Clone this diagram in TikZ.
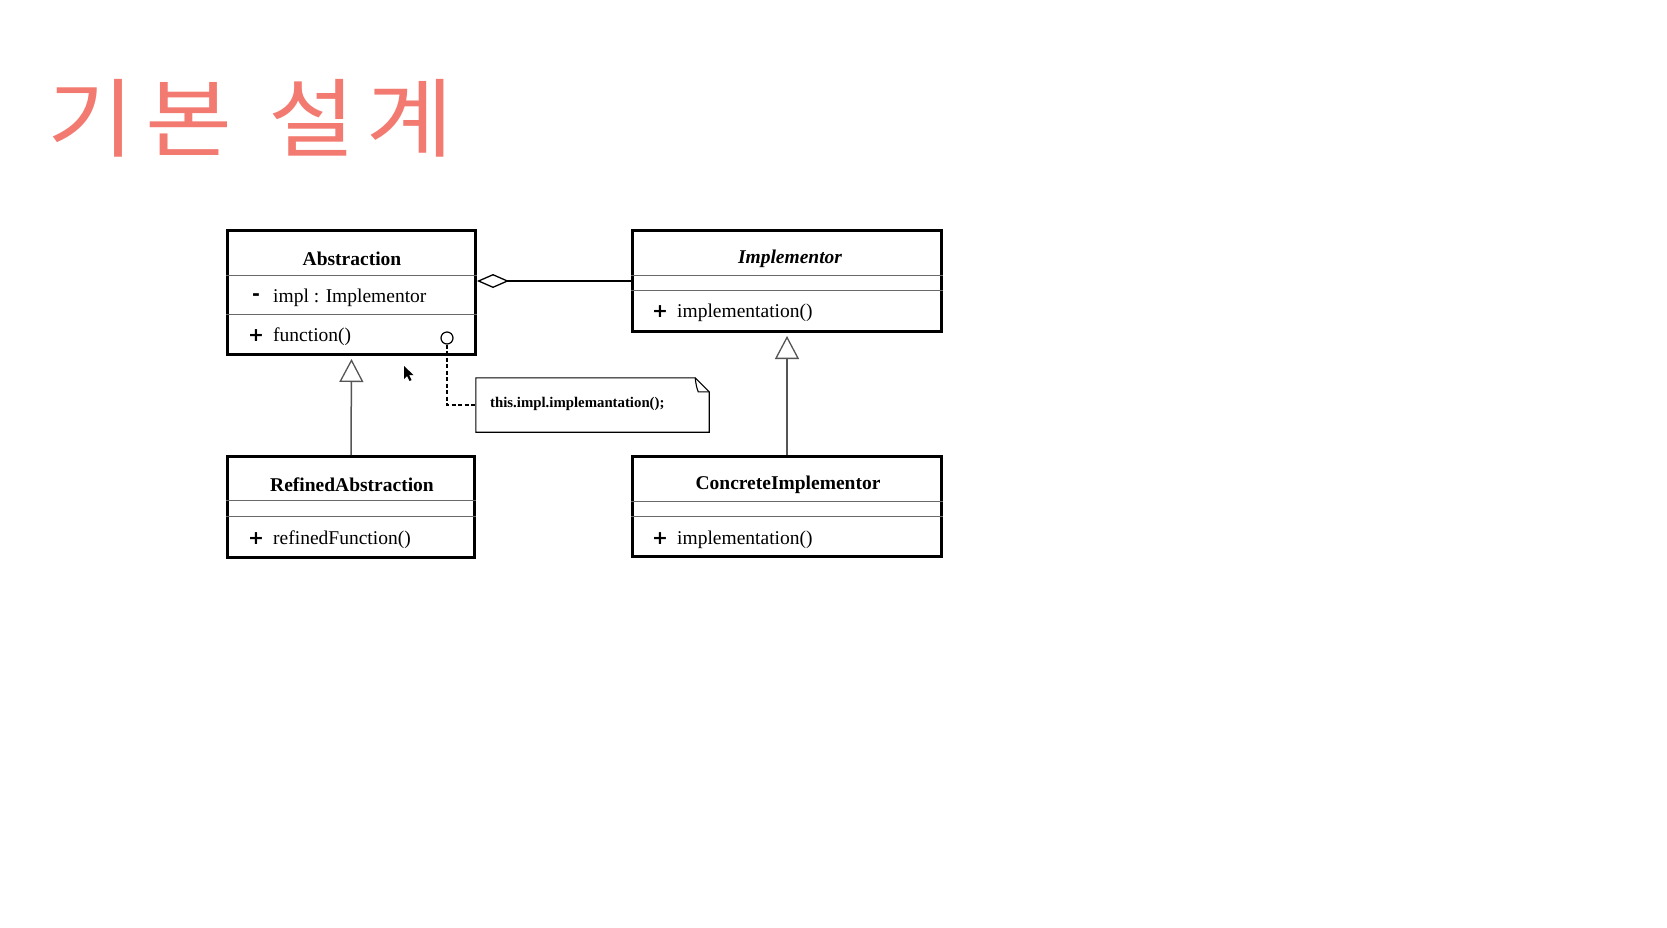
\documentclass[tikz,border=0pt]{standalone}
\usepackage{fontspec}
\setmainfont{Liberation Serif}
\newfontfamily\krfont[FakeStretch=1.1, LetterSpace=13]{Noto Sans CJK KR}
\newfontfamily\symfont{DejaVu Sans}
\usetikzlibrary{arrows.meta}
\definecolor{titlered}{RGB}{242,122,112}
\definecolor{linegray}{RGB}{85,85,85}
\definecolor{sepgray}{RGB}{105,105,105}
\tikzset{
  classbox/.style={draw=black, line width=3pt, inner sep=0pt, rectangle},
  sepline/.style={draw=sepgray, line width=1.2pt},
  cname/.style={font=\fontsize{19.5}{20}\selectfont\bfseries, inner sep=0pt},
  member/.style={font=\fontsize{19.5}{20}\selectfont, inner sep=0pt, anchor=west},
  vis/.style={font=\symfont\fontsize{19}{20}\selectfont\bfseries, inner sep=0pt},
  inherit/.style={draw=linegray, line width=1.5pt, -{Triangle[open, length=23pt, width=24pt, line width=1.3pt]}, shorten >=3pt},
  aggreg/.style={draw=black, line width=1.3pt, -{Diamond[open, length=32pt, width=14pt, line width=1.3pt]}},
  notelink/.style={draw=black, line width=1.1pt, dash pattern=on 4pt off 2.5pt}
}
\begin{document}
\begin{tikzpicture}[x=1pt, y=-1pt]
\useasboundingbox (0,0) rectangle (1667,927);
\fill[white] (0,0) rectangle (1667,927);

% title
\node[anchor=base west, inner sep=0pt, text=titlered, font=\krfont\fontsize{86}{90}\selectfont] (title) at (47,150.5) {기본\hspace{36pt}설계};

% class boxes
\node[classbox, minimum width=248pt, minimum height=124pt] (abs) at (351.5,292.5) {};
\node[classbox, minimum width=309pt, minimum height=101pt] (impl) at (787,281) {};
\node[classbox, minimum width=247pt, minimum height=101pt] (ref) at (351,507) {};
\node[classbox, minimum width=309pt, minimum height=100pt] (conc) at (787,506.5) {};

% separators
\draw[sepline] ([yshift=-46.5pt]abs.north west) -- ([yshift=-46.5pt]abs.north east);
\draw[sepline] ([yshift=-85.5pt]abs.north west) -- ([yshift=-85.5pt]abs.north east);
\draw[sepline] ([yshift=-46.5pt]impl.north west) -- ([yshift=-46.5pt]impl.north east);
\draw[sepline] ([yshift=-61.5pt]impl.north west) -- ([yshift=-61.5pt]impl.north east);
\draw[sepline] ([yshift=-45.5pt]ref.north west) -- ([yshift=-45.5pt]ref.north east);
\draw[sepline] ([yshift=-61.5pt]ref.north west) -- ([yshift=-61.5pt]ref.north east);
\draw[sepline] ([yshift=-46.5pt]conc.north west) -- ([yshift=-46.5pt]conc.north east);
\draw[sepline] ([yshift=-61.5pt]conc.north west) -- ([yshift=-61.5pt]conc.north east);

% texts
\node[cname] (absname) at (352,259) {Abstraction};
\node[vis] (absv1) at (256,297) {-};
\node[member] (absm1) at (273,298) {impl : Implementor};
\node[vis] (absv2) at (256,336) {+};
\node[member] (absm2) at (273,337) {function()};

\node[cname, font=\fontsize{19.5}{20}\selectfont\bfseries\itshape] (implname) at (790,259) {Implementor};
\node[vis] (implv1) at (660,312) {+};
\node[member] (implm1) at (677,313) {implementation()};

\node[cname] (refname) at (352,485) {RefinedAbstraction};
\node[vis] (refv1) at (256,539) {+};
\node[member] (refm1) at (273,540) {refinedFunction()};

\node[cname] (concname) at (788,485) {ConcreteImplementor};
\node[vis] (concv1) at (660,539) {+};
\node[member] (concm1) at (677,540) {implementation()};

% note
\node[inner sep=0pt, minimum width=233pt, minimum height=54pt] (note) at (592.5,405) {};
\draw[black, line width=1.1pt] (note.north west) -- ([xshift=-14pt]note.north east) -- ([yshift=-14pt]note.north east) -- (note.south east) -- (note.south west) -- cycle;
\draw[black, line width=1.1pt] ([xshift=-14pt]note.north east) .. controls ([xshift=-13pt,yshift=-8pt]note.north east) .. ([xshift=-11pt,yshift=-14pt]note.north east) -- ([yshift=-14pt]note.north east);
\node[anchor=west, inner sep=0pt, font=\fontsize{14.8}{15}\selectfont\bfseries] (notetext) at (490,404) {this.impl.implemantation();};

% circle anchor of note
\node[draw=black, line width=1.2pt, circle, minimum size=12pt, inner sep=0pt, fill=white] (circ) at (447,338) {};
\draw[notelink] (circ.south) |- (note.west);

% connectors
\draw[aggreg] (impl.west) -- (impl.west -| abs.east);
\draw[inherit] (ref.north) -- (abs.south);
\draw[inherit] (conc.north) -- (impl.south);

% mouse cursor
\coordinate (cursor) at (404,366);
\fill[black] (cursor) -- ++(0,13) -- ++(3,-3) -- ++(2.5,5) -- ++(2,-1) -- ++(-2.5,-5) -- ++(4.5,0) -- cycle;
\end{tikzpicture}
\end{document}
